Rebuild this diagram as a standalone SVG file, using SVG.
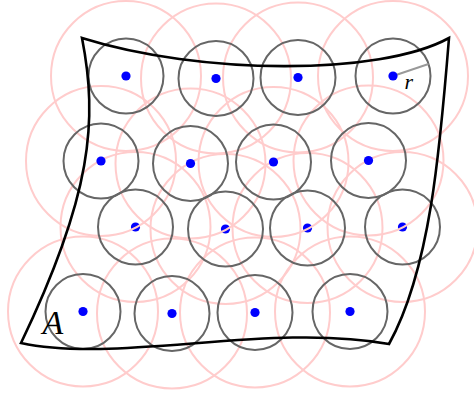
<svg xmlns="http://www.w3.org/2000/svg" width="474" height="395" viewBox="0 0 474 395">
<style>
.big{fill:none;stroke:#ffcccc;stroke-width:2}
.sm{fill:none;stroke:#666;stroke-width:2}
.pt{fill:#0000ff}
.lbl{font-family:"Liberation Serif",serif;font-style:italic;fill:#000}
</style>
<defs>
<circle id="bc" r="75" class="big"/>
<circle id="sc" r="37.5" class="sm"/>
<circle id="dt" r="4.6" class="pt"/>
</defs>
<rect width="474" height="395" fill="#fff"/>
<g id="points-lower">
<use href="#dt" x="135.5" y="227"/><use href="#dt" x="225.5" y="229"/><use href="#dt" x="307.5" y="228"/><use href="#dt" x="402.5" y="227"/>
<use href="#dt" x="83" y="311.5"/><use href="#dt" x="172" y="313.5"/><use href="#dt" x="255" y="312.5"/><use href="#dt" x="350" y="311.5"/>
</g>
<g id="coverage">
<use href="#bc" x="126" y="76"/><use href="#bc" x="216" y="78.5"/><use href="#bc" x="298" y="77.5"/><use href="#bc" x="393" y="76"/>
<use href="#bc" x="101" y="161"/><use href="#bc" x="190.5" y="163.5"/><use href="#bc" x="273.5" y="162"/><use href="#bc" x="368.5" y="160.5"/>
<use href="#bc" x="135.5" y="227"/><use href="#bc" x="225.5" y="229"/><use href="#bc" x="307.5" y="228"/><use href="#bc" x="402.5" y="227"/>
<use href="#bc" x="83" y="311.5"/><use href="#bc" x="172" y="313.5"/><use href="#bc" x="255" y="312.5"/><use href="#bc" x="350" y="311.5"/>
</g>
<g id="points-upper">
<use href="#dt" x="126" y="76"/><use href="#dt" x="216" y="78.5"/><use href="#dt" x="298" y="77.5"/>
<use href="#dt" x="101" y="161"/><use href="#dt" x="190.5" y="163.5"/><use href="#dt" x="273.5" y="162"/><use href="#dt" x="368.5" y="160.5"/>
</g>
<g id="sensing">
<use href="#sc" x="126" y="76"/><use href="#sc" x="216" y="78.5"/><use href="#sc" x="298" y="77.5"/><use href="#sc" x="393" y="76"/>
<use href="#sc" x="101" y="161"/><use href="#sc" x="190.5" y="163.5"/><use href="#sc" x="273.5" y="162"/><use href="#sc" x="368.5" y="160.5"/>
<use href="#sc" x="135.5" y="227"/><use href="#sc" x="225.5" y="229"/><use href="#sc" x="307.5" y="228"/><use href="#sc" x="402.5" y="227"/>
<use href="#sc" x="83" y="311.5"/><use href="#sc" x="172" y="313.5"/><use href="#sc" x="255" y="312.5"/><use href="#sc" x="350" y="311.5"/>
</g>
<g id="region">
<path d="M82,38 C200,75 380,76 449,38 C440,150 430,270 389,344 C270,322 118,364 21,343 C92,195 98,120 82,38 Z" fill="none" stroke="#000" stroke-width="2.6" stroke-linejoin="miter"/>
<text class="lbl" x="42.5" y="334" font-size="34">A</text>
</g>
<g id="radius">
<line x1="393" y1="76" x2="428.5" y2="64" stroke="#999" stroke-width="2"/>
<use href="#dt" x="393" y="76"/>
<text class="lbl" x="404.5" y="89" font-size="22">r</text>
</g>
</svg>
